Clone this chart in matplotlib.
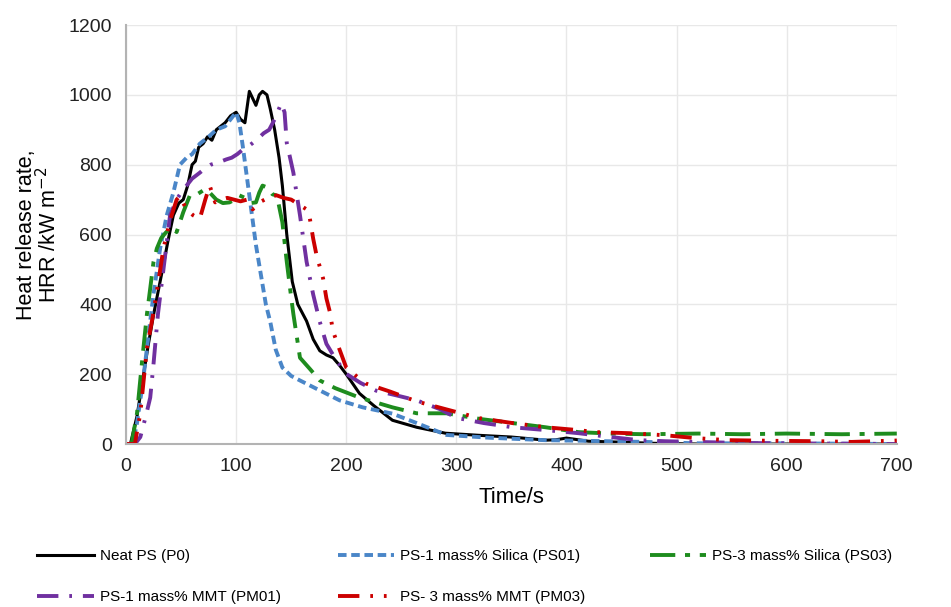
import matplotlib.pyplot as plt

plt.rcParams['font.family'] = ['Liberation Sans', 'DejaVu Sans']

# Neat PS (P0)
t_p0 = [0, 4, 10, 15, 20, 25, 30, 34, 38, 43, 48, 52, 56, 60, 63, 66, 70, 74, 78, 82, 86, 90, 95, 100,
        104, 108, 112, 115, 118, 121, 124, 128, 131, 135, 139, 142, 146, 151, 156, 164, 170, 176, 182,
        188, 194, 200, 212, 225, 242, 264, 290, 320, 350, 381, 390, 400, 420, 442, 480, 520, 700]
hrr_p0 = [0, 0, 80, 180, 280, 370, 450, 513, 580, 655, 690, 700, 740, 800, 810, 850, 860, 880, 870, 900,
          910, 920, 940, 950, 930, 920, 1010, 990, 970, 1000, 1010, 1000, 960, 900, 820, 740, 600, 465,
          400, 352, 300, 267, 255, 247, 225, 200, 145, 110, 68, 48, 31, 25, 20, 11, 12, 17, 8, 6, 2, 0, 0]

# PS-1 mass% Silica (PS01)
t_ps01 = [0, 6, 10, 15, 20, 25, 31, 37, 43, 49, 55, 60, 67, 75, 82, 90, 95, 100, 103, 106, 112, 118,
          121, 127, 131, 136, 142, 150, 158, 175, 194, 215, 242, 264, 291, 330, 381, 420, 472, 520, 600, 700]
hrr_ps01 = [0, 0, 60, 170, 300, 430, 560, 655, 720, 800, 820, 830, 860, 880, 900, 910, 930, 950, 920,
            854, 712, 570, 513, 400, 350, 270, 219, 195, 182, 155, 125, 105, 87, 60, 26, 18, 11, 9, 6, 2, 2, 0]

# PS-3 mass% Silica (PS03)
t_ps03 = [0, 5, 10, 15, 19, 22, 25, 28, 32, 36, 41, 46, 52, 58, 63, 67, 72, 76, 82, 88, 94, 99, 103,
          108, 113, 118, 121, 124, 128, 133, 137, 142, 146, 150, 152, 158, 167, 176, 190, 212, 242, 264,
          291, 321, 351, 381, 411, 440, 472, 520, 560, 600, 650, 700]
hrr_ps03 = [0, 0, 88, 250, 372, 446, 522, 560, 590, 605, 620, 607, 664, 712, 712, 720, 730, 720, 700,
            690, 692, 700, 712, 705, 690, 692, 720, 740, 735, 715, 712, 635, 522, 420, 372, 247, 215, 182,
            160, 133, 105, 88, 88, 72, 60, 48, 34, 30, 28, 30, 28, 30, 28, 30]

# PS-1 mass% MMT (PM01)
t_pm01 = [0, 8, 13, 18, 22, 25, 29, 34, 40, 46, 50, 55, 60, 67, 72, 77, 82, 87, 91, 96, 101, 106, 110,
          115, 120, 125, 130, 135, 141, 144, 146, 149, 152, 158, 164, 170, 176, 182, 190, 200, 213, 227,
          246, 264, 285, 300, 325, 351, 381, 411, 440, 466, 490, 517, 560, 600, 700]
hrr_pm01 = [0, 0, 20, 80, 133, 230, 372, 500, 655, 700, 720, 740, 760, 777, 790, 800, 805, 810, 815, 820,
            830, 843, 850, 862, 875, 890, 900, 930, 976, 950, 862, 820, 777, 655, 522, 428, 350, 287, 245,
            201, 175, 153, 139, 125, 100, 75, 60, 48, 40, 31, 20, 11, 8, 6, 3, 2, 0]

# PS- 3 mass% MMT (PM03)
t_pm03 = [0, 8, 13, 19, 24, 28, 34, 40, 46, 49, 52, 55, 61, 67, 72, 76, 81, 86, 92, 98, 104, 110, 115,
          118, 121, 126, 131, 137, 143, 150, 158, 164, 167, 170, 173, 179, 182, 185, 188, 194, 200, 209,
          218, 240, 264, 290, 321, 351, 381, 410, 427, 457, 490, 517, 547, 593, 630, 659, 700]
hrr_pm03 = [0, 0, 88, 275, 360, 437, 560, 640, 700, 710, 690, 672, 655, 645, 700, 740, 692, 700, 705,
            700, 695, 700, 672, 680, 692, 700, 710, 712, 705, 700, 684, 672, 645, 588, 541, 474, 417, 380,
            323, 270, 219, 195, 173, 150, 122, 100, 74, 60, 48, 40, 34, 31, 25, 17, 11, 9, 8, 6, 10]

fig = plt.figure(figsize=(9.51, 6.07), dpi=100)
ax = fig.add_axes([0.1325, 0.2685, 0.8105, 0.6903])

l_p0, = ax.plot(t_p0, hrr_p0, color='black', lw=2.2, label='Neat PS (P0)')
l_ps01, = ax.plot(t_ps01, hrr_ps01, color='#4a86c8', lw=2.8, ls=(0, (2.2, 1.2)),
                  label='PS-1 mass% Silica (PS01)')
l_ps03, = ax.plot(t_ps03, hrr_ps03, color='#1e8c1e', lw=2.8, ls=(0, (6.5, 2.5, 1.3, 2.5)),
                  label='PS-3 mass% Silica (PS03)')
l_pm01, = ax.plot(t_pm01, hrr_pm01, color='#7030a0', lw=2.8, ls=(0, (5.5, 2.8, 0.7, 2.8)),
                  label='PS-1 mass% MMT (PM01)')
l_pm03, = ax.plot(t_pm03, hrr_pm03, color='#cc0000', lw=2.8, ls=(0, (5.5, 2.8, 0.7, 2.8, 0.7, 2.8)),
                  label='PS- 3 mass% MMT (PM03)')

ax.set_xlim(0, 700)
ax.set_ylim(0, 1200)
ax.set_xticks(range(0, 701, 100))
ax.set_yticks(range(0, 1201, 200))
ax.grid(True, color='#e8e8e8', lw=1)
ax.set_axisbelow(True)
for s in ['top', 'right']:
    ax.spines[s].set_visible(False)
for s in ['left', 'bottom']:
    ax.spines[s].set_color('#b3b3b3')
    ax.spines[s].set_linewidth(1.5)
ax.tick_params(length=0, labelsize=14, colors='#222222', pad=10)
ax.set_xlabel('Time/s', fontsize=16, labelpad=9)
ax.set_ylabel('Heat release rate,\nHRR /kW m$^{-2}$', fontsize=15.5, labelpad=5, linespacing=0.95)

# legend laid out in fixed-width columns, like the original
columns = [([l_p0, l_pm01], 0.039), ([l_ps01, l_pm03], 0.355), ([l_ps03], 0.683)]
for hs, x0 in columns:
    fig.legend(hs, [h.get_label() for h in hs], ncol=1, frameon=False, fontsize=11,
               loc='upper left', bbox_to_anchor=(x0, 0.095), borderpad=0, borderaxespad=0,
               handlelength=3.7, handletextpad=0.4, labelspacing=1.75)

fig.savefig('out.png', dpi=100)
